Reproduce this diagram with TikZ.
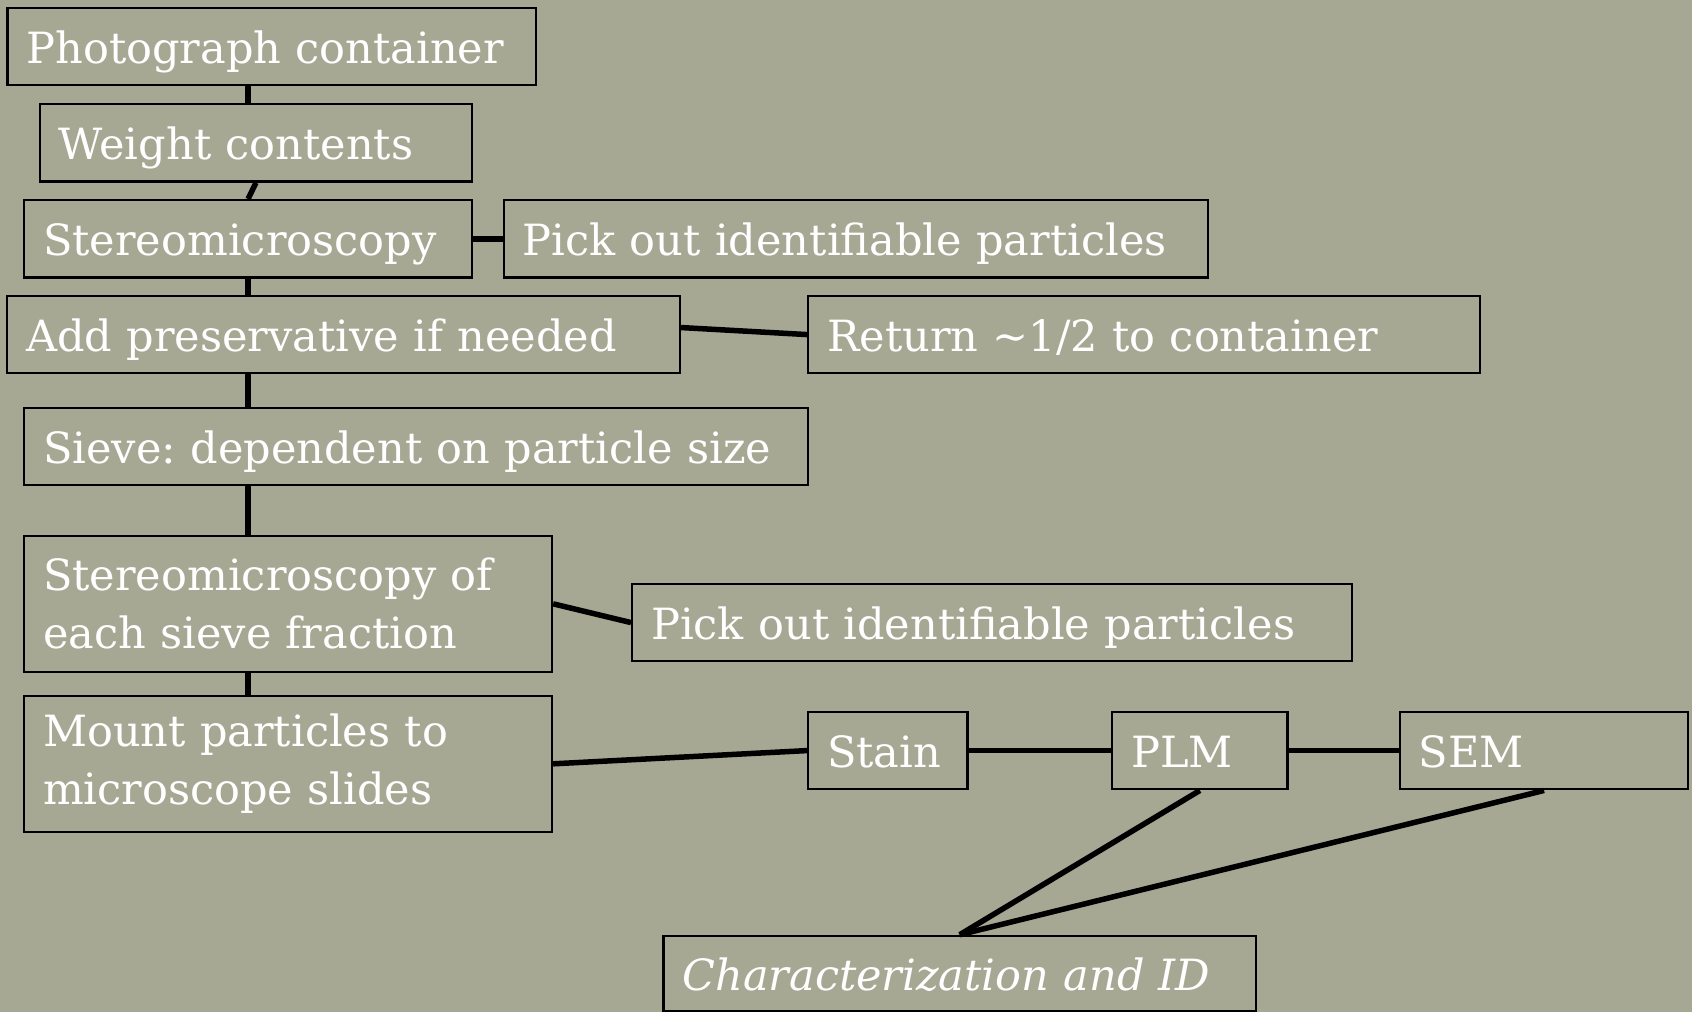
\documentclass[tikz,border=0pt]{standalone}
\usepackage{fontspec}
\setmainfont{DejaVu Serif}
\frenchspacing
\definecolor{slide}{RGB}{166,168,147}
\begin{document}
\begin{tikzpicture}[
        x=0.02cm, y=-0.02cm,
        box/.style={draw=black, line width=0.045cm, anchor=north west, text=white,
            align=left, inner xsep=0.38cm, inner ysep=0pt,
            font=\fontsize{24.5}{33}\selectfont},
        stepbox/.style={box, minimum height=1.55cm, text height=0.84cm, text depth=0.16cm},
        tallbox/.style={box, minimum height=2.72cm},
        link/.style={line width=0.11cm}
    ]
        % Background
        \fill[slide] (0,0) rectangle (1692,1012);
        \useasboundingbox (0,0) rectangle (1692,1012);

        % Main column
        \node[stepbox, text width=9.81cm] (photo) at (6.4,6.7) {Photograph container};
        \node[stepbox, text width=7.89cm] (weigh) at (38.6,103) {Weight contents};
        \node[stepbox, text width=8.20cm] (stereo) at (23,199) {Stereomicroscopy};
        \node[stepbox, text width=12.70cm] (preserve) at (6,294.7) {Add preservative if needed};
        \node[stepbox, text width=14.92cm] (sieve) at (23,406.7) {Sieve: dependent on particle size};
        \node[tallbox, text width=9.80cm] (fraction) at (23,534.7) {Stereomicroscopy of\\each sieve fraction};
        \node[tallbox, text width=9.80cm] (mount) at (23,694.7) {Mount particles to\\microscope slides};

        % Side branches
        \node[stepbox, text width=13.33cm] (pickA) at (502.5,199) {Pick out identifiable particles};
        \node[stepbox, text width=12.68cm] (giveback) at (807,294.7) {Return \textasciitilde1/2 to container};
        \node[stepbox, text width=13.64cm] (pickB) at (631,582.7) {Pick out identifiable particles};

        % Analysis row
        \node[stepbox, text width=2.43cm] (stain) at (807,710.7) {Stain};
        \node[stepbox, text width=2.75cm] (plm) at (1111,710.7) {PLM};
        \node[stepbox, text width=5.01cm] (sem) at (1398.7,710.7) {SEM};
        \node[stepbox, text width=11.09cm, minimum height=1.51cm] (charid) at (662.4,934.7) {\itshape Characterization and ID};

        % Connectors
        \draw[link] (photo.south -| stereo.north) -- (weigh.north -| stereo.north);
        \draw[link] (weigh.south) -- (stereo.north);
        \draw[link] (stereo.south) -- (preserve.north -| stereo.south);
        \draw[link] (preserve.south -| stereo.south) -- (sieve.north -| stereo.south);
        \draw[link] (sieve.south -| stereo.south) -- (fraction.north -| stereo.south);
        \draw[link] (fraction.south -| stereo.south) -- (mount.north -| stereo.south);

        \draw[link] (stereo.east) -- (pickA.west);
        \draw[link] ([yshift=4pt]preserve.east) -- (giveback.west);
        \draw[link] (fraction.east) -- (pickB.west);
        \draw[link] (mount.east) -- (stain.west);
        \draw[link] (stain.east) -- (plm.west);
        \draw[link] (plm.east) -- (sem.west);
        \draw[link] (plm.south) -- (charid.north);
        \draw[link] (sem.south) -- (charid.north);
    \end{tikzpicture}
\end{document}
